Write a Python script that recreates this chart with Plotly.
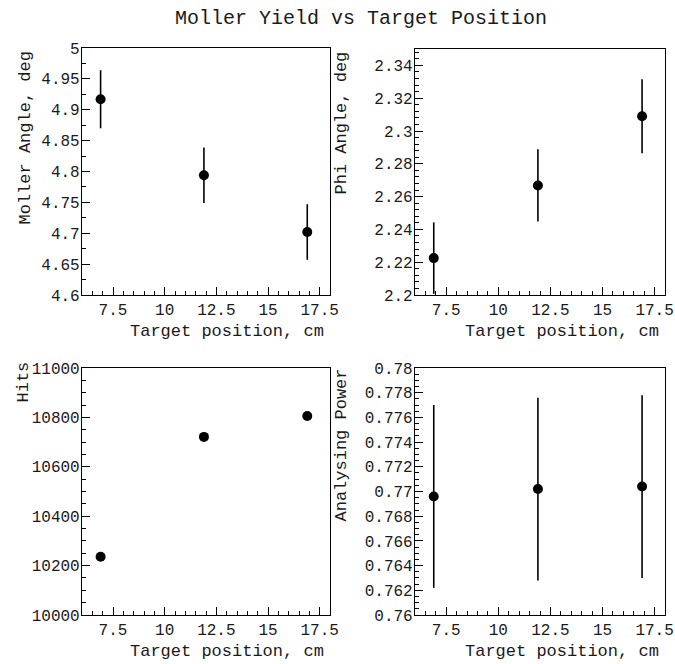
import plotly.graph_objects as go

# ---- data ----
target_pos = [6.9, 11.9, 16.9]
moller_angle = [4.917, 4.794, 4.702]
moller_angle_err = [0.047, 0.045, 0.045]
phi_angle = [2.2225, 2.2668, 2.309]
phi_angle_err = [0.0218, 0.022, 0.0225]
hits = [10236, 10721, 10806]
analysing_power = [0.7696, 0.7702, 0.7704]
analysing_power_err = [0.0074, 0.0074, 0.0074]

title_text = "Moller Yield vs Target Position"
x_title = "Target position, cm"
y_titles = ["Moller Angle, deg", "Phi Angle, deg", "Hits", "Analysing Power"]

W, H = 675, 664
FONT = "Liberation Mono"
TXT = "#1a1a1a"

def px(x):
    return x / W

def py(y):
    return 1 - y / H

panels = [
    dict(box=(82, 48, 330, 295), y=moller_angle, err=moller_angle_err,
         yrange=[4.6, 5.0], dtick=0.05, minor=0.025, fmt="",
         ytx=25, yty=50, xtx=326, xty=331),
    dict(box=(415, 49, 665, 295), y=phi_angle, err=phi_angle_err,
         yrange=[2.2, 2.35], dtick=0.02, minor=0.004, fmt="",
         ytx=341, yty=50, xtx=661, xty=331),
    dict(box=(82, 368, 330, 615), y=hits, err=None,
         yrange=[10000, 11000], dtick=200, minor=50, fmt="d",
         ytx=23, yty=360, xtx=326, xty=651),
    dict(box=(415, 368, 665, 615), y=analysing_power, err=analysing_power_err,
         yrange=[0.76, 0.78], dtick=0.002, minor=0.0005, fmt="",
         ytx=341, yty=367, xtx=661, xty=651),
]

fig = go.Figure()
annotations = []
layout = {}
for i, p in enumerate(panels):
    n = "" if i == 0 else str(i + 1)
    x0, y0, x1, y1 = p["box"]
    tr = go.Scatter(
        x=target_pos, y=p["y"], mode="markers",
        marker=dict(color="black", size=10),
        xaxis="x" + n, yaxis="y" + n, showlegend=False,
    )
    if p["err"] is not None:
        tr.error_y = dict(type="data", array=p["err"], visible=True,
                          color="black", thickness=1.6, width=0)
    fig.add_trace(tr)
    common = dict(showline=True, linecolor="black", linewidth=1.2, mirror=True,
                  showgrid=False, zeroline=False, ticks="inside",
                  tickcolor="black", tickwidth=1, automargin=False,
                  tickfont=dict(family=FONT, size=16, color=TXT))
    layout["xaxis" + n] = dict(
        common, domain=[px(x0), px(x1)], range=[6, 18], dtick=2.5, tick0=0,
        ticklen=8, anchor="y" + n, ticklabelstandoff=0,
        minor=dict(ticks="inside", ticklen=4, dtick=0.5, tickcolor="black",
                   showgrid=False),
    )
    layout["yaxis" + n] = dict(
        common, domain=[py(y1), py(y0)], range=p["yrange"], dtick=p["dtick"],
        tick0=0, ticklen=8, anchor="x" + n, exponentformat="none",
        tickformat=p["fmt"], ticklabelstandoff=-2,
        minor=dict(ticks="inside", ticklen=4, dtick=p["minor"],
                   tickcolor="black", showgrid=False),
    )
    annotations.append(dict(
        text=y_titles[i], textangle=-90, x=px(p["ytx"]), y=py(p["yty"]),
        xref="paper", yref="paper", xanchor="center", yanchor="top",
        showarrow=False, font=dict(family=FONT, size=17, color=TXT)))
    annotations.append(dict(
        text=x_title, x=px(p["xtx"]), y=py(p["xty"]),
        xref="paper", yref="paper", xanchor="right", yanchor="middle",
        showarrow=False, font=dict(family=FONT, size=17, color=TXT)))

annotations.append(dict(
    text=title_text, x=px(361), y=py(18), xref="paper", yref="paper",
    xanchor="center", yanchor="middle", showarrow=False,
    font=dict(family=FONT, size=20, color=TXT)))

fig.update_layout(
    width=W, height=H, margin=dict(l=0, r=0, t=0, b=0, autoexpand=False),
    paper_bgcolor="white", plot_bgcolor="white",
    annotations=annotations, showlegend=False, **layout,
)

fig.write_html("out.html",
               config={"displayModeBar": False},
               post_script="document.body.style.margin='0px';"
                           "document.body.style.overflow='hidden';")
